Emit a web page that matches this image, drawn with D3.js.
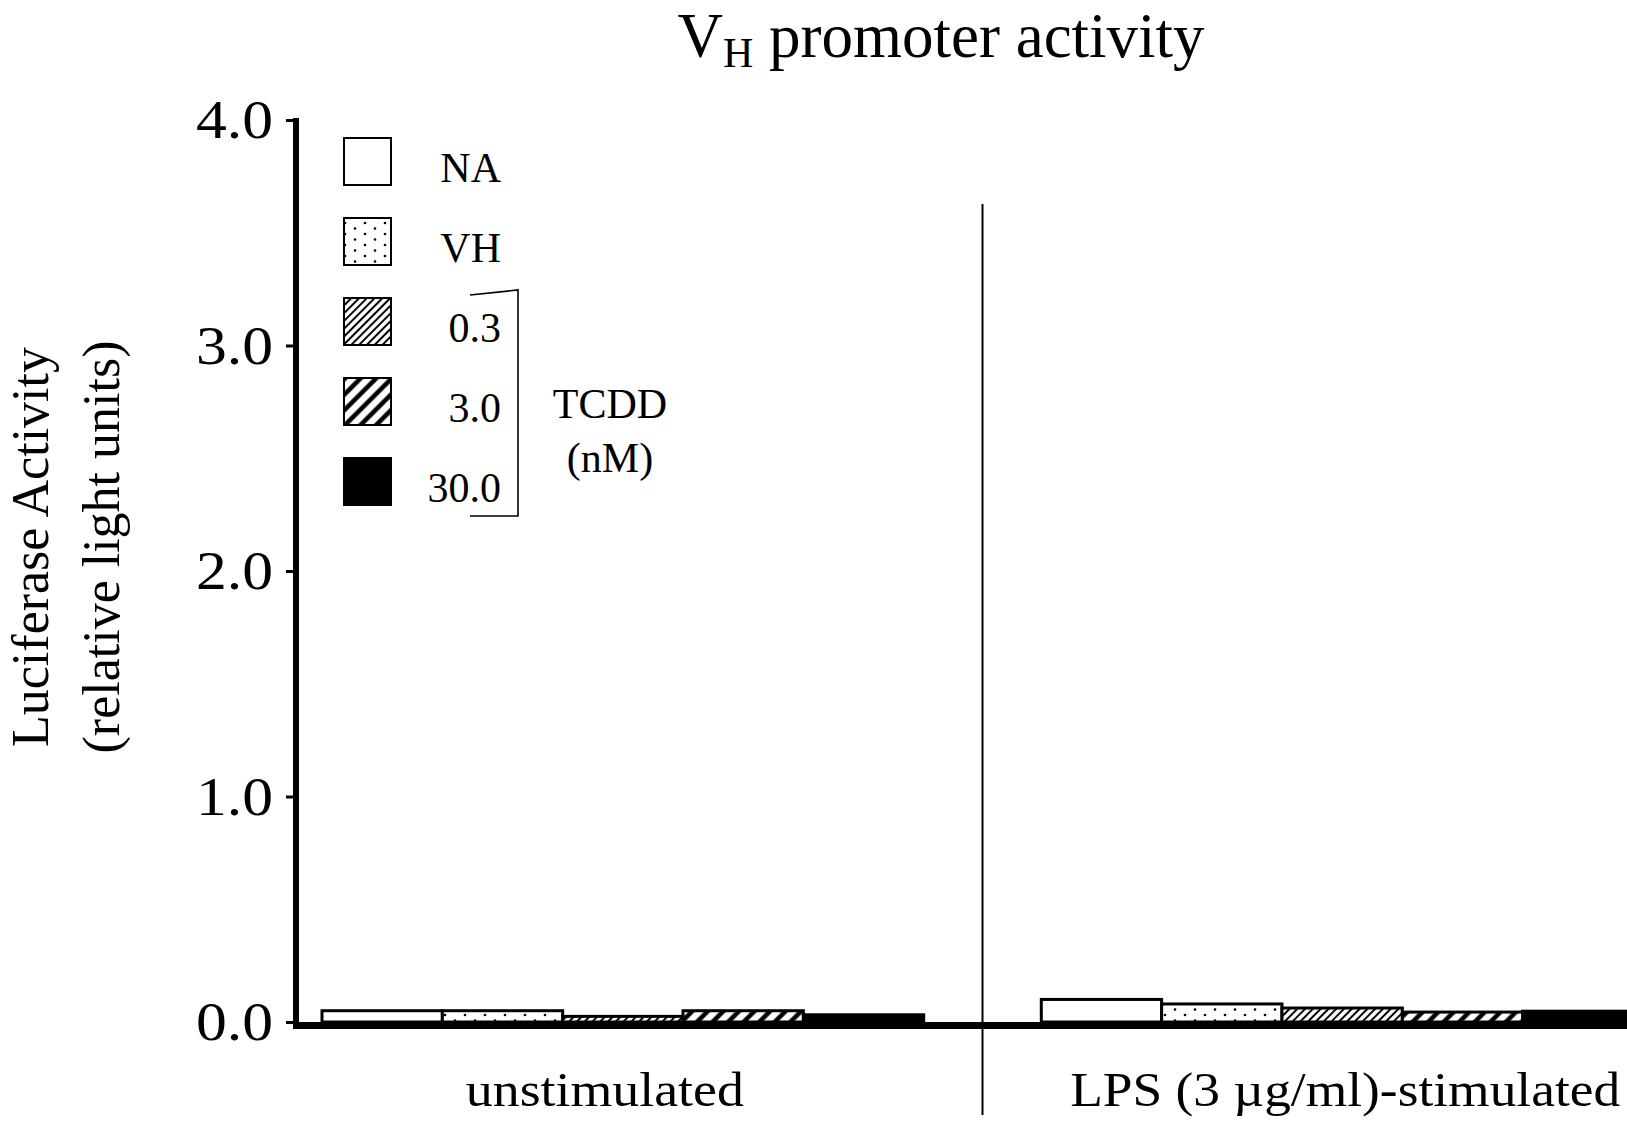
<!DOCTYPE html>
<html>
<head>
<meta charset="utf-8">
<script src="https://cdn.jsdelivr.net/npm/d3@7"></script>
<style>
  body { margin: 0; background: #fff; }
  svg { display: block; }
  text { font-family: "Liberation Serif", "Times New Roman", serif; fill: #000; }
</style>
</head>
<body>
<svg width="1627" height="1128"></svg>
<script>

var groups = ["unstimulated", "LPS (3 \u00b5g/ml)-stimulated"];
var series = ["NA", "VH", "0.3", "3.0", "30.0"];
var unstimulated = [0.05, 0.05, 0.025, 0.05, 0.032];
var lpsStimulated = [0.10, 0.08, 0.062, 0.044, 0.048];
var yTicks = [0, 1, 2, 3, 4];

var values = [unstimulated, lpsStimulated];
var fills = ["#fff", "url(#dots)", "url(#fineHatch)", "url(#wideHatch)", "#000"];

var svg = d3.select("svg");
var axisX = 296;

var y = d3.scaleLinear().domain([0, 4]).range([1022, 120]);

var x0 = d3.scaleBand()
  .domain(groups)
  .range([322, 1643])
  .paddingInner(0.1635);

var x1 = d3.scaleBand()
  .domain(series)
  .range([0, x0.bandwidth()]);

// patterns
var defs = svg.append("defs");
var dots = defs.append("pattern")
  .attr("id", "dots")
  .attr("patternUnits", "userSpaceOnUse")
  .attr("width", 20).attr("height", 11);
dots.append("rect").attr("width", 20).attr("height", 11).attr("fill", "#fff");
dots.append("circle").attr("cx", 5).attr("cy", 3).attr("r", 1.3).attr("fill", "#000");
dots.append("circle").attr("cx", 15).attr("cy", 8.5).attr("r", 1.3).attr("fill", "#000");

function hatch(id, w, sw) {
  var p = defs.append("pattern")
    .attr("id", id)
    .attr("patternUnits", "userSpaceOnUse")
    .attr("width", w).attr("height", w)
    .attr("patternTransform", "rotate(45)");
  p.append("rect").attr("width", w).attr("height", w).attr("fill", "#fff");
  p.append("line")
    .attr("x1", w / 2).attr("x2", w / 2)
    .attr("y1", 0).attr("y2", w)
    .attr("stroke", "#000").attr("stroke-width", sw);
}
hatch("fineHatch", 5.5, 2);
hatch("wideHatch", 11, 4.5);

// title
var title = svg.append("text")
  .attr("x", 941).attr("y", 57)
  .attr("text-anchor", "middle")
  .style("font-size", "63px");
title.append("tspan").text("V");
title.append("tspan").attr("dy", 10).style("font-size", "42px").text("H");
title.append("tspan").attr("dy", -10).text(" promoter activity");

// y axis title
var yt = svg.append("g").attr("transform", "translate(0,547)");
yt.append("text")
  .attr("transform", "translate(48,0) rotate(-90)")
  .attr("text-anchor", "middle")
  .style("font-size", "52px")
  .text("Luciferase Activity");
yt.append("text")
  .attr("transform", "translate(119,0) rotate(-90)")
  .attr("text-anchor", "middle")
  .style("font-size", "52px")
  .text("(relative light units)");

// bars
var bars = svg.append("g");
groups.forEach(function (g, gi) {
  bars.selectAll(".bar" + gi)
    .data(series)
    .enter().append("rect")
    .attr("x", function (s) { return x0(g) + x1(s); })
    .attr("width", x1.bandwidth())
    .attr("y", function (s, i) { return y(values[gi][i]); })
    .attr("height", function (s, i) { return y(0) - y(values[gi][i]); })
    .attr("fill", function (s, i) { return fills[i]; })
    .attr("stroke", "#000")
    .attr("stroke-width", 3);
});

// divider between groups
var midX = (x0(groups[0]) + x0.bandwidth() + x0(groups[1])) / 2;
svg.append("line")
  .attr("x1", midX).attr("x2", midX)
  .attr("y1", 204).attr("y2", 1115)
  .attr("stroke", "#000").attr("stroke-width", 2);

// baseline
svg.append("line")
  .attr("x1", axisX - 3).attr("x2", 1627)
  .attr("y1", y(0) + 3.5).attr("y2", y(0) + 3.5)
  .attr("stroke", "#000").attr("stroke-width", 7);

// y axis
var yAxis = svg.append("g")
  .attr("transform", "translate(" + axisX + ",0)")
  .call(d3.axisLeft(y)
    .tickValues(yTicks)
    .tickFormat(d3.format(".1f"))
    .tickSize(10)
    .tickSizeOuter(0)
    .tickPadding(13));
yAxis.select(".domain").attr("stroke-width", 6).attr("d", "M0," + (y(4) - 2) + "V" + (y(0) + 7));
yAxis.selectAll(".tick line").attr("stroke-width", 3);
yAxis.selectAll(".tick text")
  .style("font-size", "55px")
  .style("font-family", "'Liberation Serif', 'Times New Roman', serif")
  .attr("textLength", 77)
  .attr("lengthAdjust", "spacingAndGlyphs");

// category labels
var catLen = [278, 550];
var catShift = [-18, 3];
svg.selectAll(".cat")
  .data(groups)
  .enter().append("text")
  .attr("x", function (g) { return x0(g) + x0.bandwidth() / 2; })
  .attr("dx", function (g, i) { return catShift[i]; })
  .attr("y", 1106)
  .attr("text-anchor", "middle")
  .style("font-size", "49px")
  .attr("textLength", function (g, i) { return catLen[i]; })
  .attr("lengthAdjust", "spacingAndGlyphs")
  .text(function (g) { return g; });

// legend
var ly = d3.scaleBand().domain(series).range([138, 538]);
var leg = svg.append("g");
leg.selectAll("rect")
  .data(series)
  .enter().append("rect")
  .attr("x", 344)
  .attr("y", function (s) { return ly(s); })
  .attr("width", 47).attr("height", 47)
  .attr("fill", function (s, i) { return fills[i]; })
  .attr("stroke", "#000").attr("stroke-width", 2);
leg.selectAll("text")
  .data(series)
  .enter().append("text")
  .attr("x", 501)
  .attr("y", function (s) { return ly(s) + 44; })
  .attr("text-anchor", "end")
  .style("font-size", "42px")
  .text(function (s) { return s; });

// TCDD bracket
leg.append("path")
  .attr("d", "M470,295L518,290V516H470")
  .attr("fill", "none")
  .attr("stroke", "#000").attr("stroke-width", 1.6);
leg.append("text").attr("x", 610).attr("y", 418).attr("text-anchor", "middle")
  .style("font-size", "42px").text("TCDD");
leg.append("text").attr("x", 610).attr("y", 472).attr("text-anchor", "middle")
  .style("font-size", "42px").text("(nM)");

</script>
</body>
</html>
